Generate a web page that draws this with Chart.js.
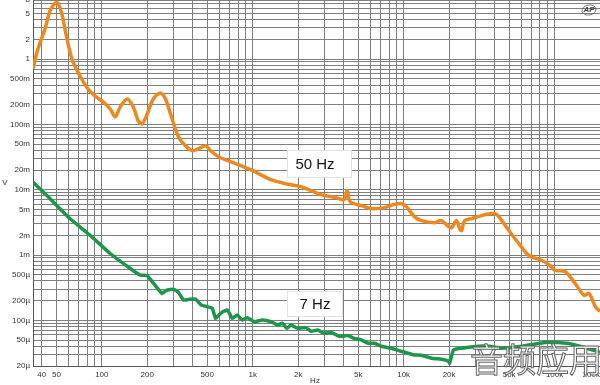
<!DOCTYPE html>
<html>
<head>
<meta charset="utf-8">
<script src="https://cdn.jsdelivr.net/npm/chart.js@4"></script>
<style>
  html, body { margin: 0; padding: 0; background: #fff; }
  #wrap { width: 600px; height: 385px; position: relative; }
</style>
</head>
<body>
<div id="wrap"><canvas id="chart" width="600" height="385"></canvas></div>
<script>
// 50 Hz trace (orange)
const freq50 = [35, 37.7, 42, 45.3, 48.9, 51.2, 54.4, 57.9, 63.4, 71.7, 81.1, 90.2, 102, 113.6, 122.6, 132.4,
  147.3, 161.6, 174.4, 185.4, 200, 219.4, 244, 264, 285, 322, 358, 399, 437, 487, 526, 594, 714, 832, 970,
  1131, 1318, 1658, 2087, 2432, 2835, 3567, 4031, 4221, 4419, 5231, 6096, 7440, 8541, 9654, 10420, 11780,
  13120, 16010, 17820, 19830, 20770, 22420, 23480, 24210, 25340, 28220, 32890, 38330, 41390, 44680, 52070,
  57970, 67550, 82450, 93190, 100600, 117300, 136700, 156900, 169400, 185700, 200000];
const volts50 = [0.704, 1.42, 2.87, 5.4, 7.16, 7.16, 4.86, 2.41, 1.0, 0.55, 0.348, 0.272, 0.2205, 0.1725, 0.130, 0.185,
  0.245, 0.185, 0.113, 0.1018, 0.1447, 0.245, 0.303, 0.245, 0.1447, 0.0644, 0.047, 0.0394, 0.0423, 0.047, 0.0394,
  0.0319, 0.0268, 0.02325, 0.0202, 0.01694, 0.01422, 0.01235, 0.01111, 0.00966, 0.0084, 0.00755, 0.00704, 0.00966,
  0.00656, 0.0057, 0.00513, 0.00531, 0.0059, 0.00611, 0.0055, 0.00387, 0.00336, 0.00313, 0.00336, 0.00272, 0.00263,
  0.00336, 0.00254, 0.00237, 0.00336, 0.00361, 0.00401, 0.0043, 0.00415, 0.00336, 0.00206, 0.0015, 0.000983,
  0.000824, 0.000692, 0.00058, 0.00056, 0.000367, 0.000241, 0.000258, 0.000164, 0.000137];

// 7 Hz trace (green)
const freq7 = [35, 45.3, 61.5, 83.6, 113.6, 154.3, 179.8, 199.3, 220.4, 250.6, 267.8, 298, 322, 347.5, 375, 417.6,
  455.7, 499.5, 539.5, 567.4, 612.5, 678.7, 732.8, 791, 854, 921.8, 1020, 1160, 1318, 1460, 1576, 1683, 1789,
  1983, 2252, 2432, 2695, 2968, 3304, 3734, 4267, 4710, 5231, 5834, 6412, 7116, 8283, 9654, 11780, 13120, 15290,
  17820, 19830, 20140, 21420, 24210, 31410, 36610, 44680, 60690, 89000, 120900, 164300, 200000];
const volts7 = [0.0131, 0.0073, 0.00361, 0.002005, 0.001054, 0.000622, 0.000492, 0.000487, 0.000367, 0.000258,
  0.000287, 0.0003, 0.000268, 0.000204, 0.000209, 0.000211, 0.000171, 0.000162, 0.000153, 0.000107, 0.000128,
  0.000144, 0.000107, 0.000121, 0.000101, 0.00011, 0.0000955, 0.000101, 0.0000955, 0.0000848, 0.00009, 0.0000755,
  0.0000848, 0.0000755, 0.0000774, 0.0000679, 0.0000711, 0.0000634, 0.0000656, 0.000057, 0.0000584, 0.0000531,
  0.0000501, 0.0000446, 0.0000446, 0.0000401, 0.0000374, 0.0000336, 0.0000295, 0.0000292, 0.0000263, 0.0000254,
  0.0000237, 0.000022, 0.0000352, 0.0000374, 0.0000401, 0.0000401, 0.0000374, 0.0000401, 0.0000462, 0.0000446,
  0.0000374, 0.0000325];

// axis labels
const xLabelValues = [40, 50, 100, 200, 500, 1000, 2000, 5000, 10000, 20000, 50000, 100000, 200000];
const xLabelTexts = ['40', '50', '100', '200', '500', '1k', '2k', '5k', '10k', '20k', '50k', '100k', '200k'];
const yLabelValues = [8, 5, 2, 1, 0.5, 0.2, 0.1, 0.05, 0.02, 0.01, 0.005, 0.002, 0.001, 5e-4, 2e-4, 1e-4, 5e-5, 2e-5];
const yLabelTexts = ['8', '5', '2', '1', '500m', '200m', '100m', '50m', '20m', '10m', '5m', '2m', '1m',
  '500µ', '200µ', '100µ', '50µ', '20µ'];
const seriesNames = ['50 Hz', '7 Hz'];

const xMin = 35, xMax = 200000;
const yMin = 2e-5, yMax = 8;

const font = 'Liberation Sans, Arial, sans-serif';
const gridColor = '#7f7f7f';

function toPoints(xs, ys) {
  return xs.map((x, i) => ({ x: x, y: ys[i] }));
}

// grid lines at every 1..9 multiple
function logGrid(min, max) {
  const out = [min];
  for (let e = Math.floor(Math.log10(min)); e <= Math.ceil(Math.log10(max)); e++) {
    for (let m = 1; m <= 9; m++) {
      const v = m * Math.pow(10, e);
      if (v > min * 1.0001 && v < max * 0.9999) out.push(v);
    }
  }
  out.push(max);
  return out;
}

function labelFor(v, values, texts) {
  for (let i = 0; i < values.length; i++) {
    if (Math.abs(v / values[i] - 1) < 1e-6) return texts[i];
  }
  return '';
}

const overlay = {
  id: 'overlay',
  afterDatasetsDraw(chart) {
    const ctx = chart.ctx;
    ctx.save();

    // series name boxes
    const boxes = [
      { text: seriesNames[0], x: 287, y: 150, w: 65, h: 28 },
      { text: seriesNames[1], x: 287, y: 291, w: 56, h: 26 }
    ];
    boxes.forEach(b => {
      ctx.fillStyle = '#fff';
      ctx.fillRect(b.x, b.y, b.w, b.h);
      ctx.strokeStyle = '#e2e2e2';
      ctx.lineWidth = 1;
      ctx.strokeRect(b.x + 0.5, b.y + 0.5, b.w - 1, b.h - 1);
      ctx.fillStyle = '#111';
      ctx.font = '15px ' + font;
      ctx.textAlign = 'center';
      ctx.textBaseline = 'middle';
      ctx.fillText(b.text, 315, b.y + b.h / 2 + 1);
    });

    // axis units
    ctx.fillStyle = '#333';
    ctx.font = '8px ' + font;
    ctx.textAlign = 'center';
    ctx.textBaseline = 'middle';
    ctx.fillText('V', 5, 183);
    ctx.fillText('Hz', 315, 381);

    // AP logo
    ctx.strokeStyle = '#555';
    ctx.lineWidth = 0.8;
    ctx.beginPath();
    ctx.ellipse(589, 10, 7, 5, -0.2, 0, Math.PI * 2);
    ctx.stroke();
    ctx.fillStyle = '#444';
    ctx.font = 'italic bold 8px ' + font;
    ctx.fillText('AP', 589, 10);

    // watermark
    ctx.font = '33px "Noto Sans CJK SC"';
    ctx.textAlign = 'left';
    ctx.textBaseline = 'top';
    ctx.fillStyle = 'rgba(255,255,255,0.85)';
    ctx.fillText('音频应用', 470, 343);
    ctx.strokeStyle = '#666';
    ctx.lineWidth = 1;
    ctx.strokeText('音频应用', 470, 343);

    ctx.restore();
  }
};

new Chart(document.getElementById('chart'), {
  type: 'scatter',
  data: {
    datasets: [
      {
        label: seriesNames[0],
        data: toPoints(freq50, volts50),
        showLine: true,
        borderColor: 'rgb(238,136,30)',
        borderWidth: 3.5,
        pointRadius: 0,
        tension: 0.3
      },
      {
        label: seriesNames[1],
        data: toPoints(freq7, volts7),
        showLine: true,
        borderColor: 'rgb(28,150,72)',
        borderWidth: 3.5,
        pointRadius: 0,
        tension: 0.15
      }
    ]
  },
  options: {
    responsive: false,
    animation: false,
    layout: { padding: 0 },
    plugins: { legend: { display: false }, tooltip: { enabled: false } },
    scales: {
      x: {
        type: 'logarithmic',
        min: xMin,
        max: xMax,
        grid: { color: gridColor, drawTicks: false, lineWidth: 1 },
        border: { display: true, color: '#555' },
        afterBuildTicks(scale) {
          scale.ticks = logGrid(xMin, xMax).map(v => ({ value: v }));
        },
        afterFit(scale) {
          scale.height = 19;
          scale.paddingLeft = 0;
          scale.paddingRight = 0;
        },
        ticks: {
          autoSkip: false,
          maxRotation: 0,
          minRotation: 0,
          padding: 4,
          align: 'inner',
          color: '#333',
          font: { size: 8, family: font },
          callback: v => labelFor(v, xLabelValues, xLabelTexts)
        }
      },
      y: {
        type: 'logarithmic',
        min: yMin,
        max: yMax,
        grid: { color: gridColor, drawTicks: false, lineWidth: 1 },
        border: { display: true, color: '#555' },
        afterBuildTicks(scale) {
          scale.ticks = logGrid(yMin, yMax).map(v => ({ value: v }));
        },
        afterFit(scale) {
          scale.width = 33;
          scale.paddingTop = 0;
          scale.paddingBottom = 0;
        },
        ticks: {
          autoSkip: false,
          padding: 3,
          color: '#333',
          font: { size: 8, family: font },
          callback: v => labelFor(v, yLabelValues, yLabelTexts)
        }
      }
    }
  },
  plugins: [overlay]
});
</script>
</body>
</html>
